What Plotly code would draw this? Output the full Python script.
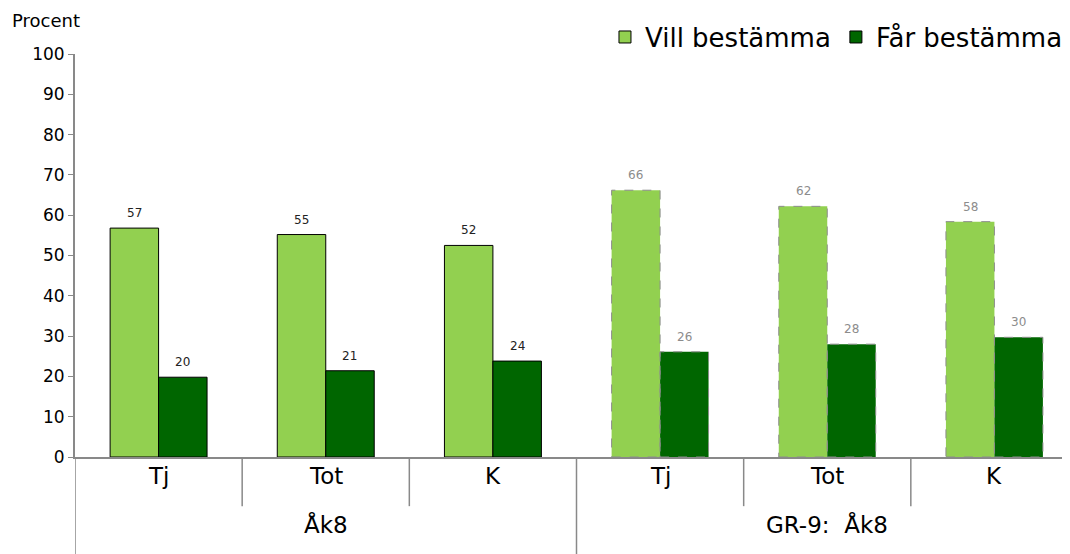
import plotly.graph_objects as go

inner_labels = ["Tj", "Tot", "K", "Tj", "Tot", "K"]
outer_labels = ["Åk8", "GR-9:  Åk8"]
vill = [56.8, 55.2, 52.5, 66.2, 62.2, 58.4]
far = [19.8, 21.4, 23.8, 26.1, 28.0, 29.7]
series_names = ["Vill bestämma", "Får bestämma"]

VILL_C = "#92D050"
FAR_C = "#006600"
FONT = "DejaVu Sans"
W = 0.29

fig = go.Figure()
x_all = list(range(len(inner_labels)))
groups = [x_all[:3], x_all[3:]]

for gi, idx in enumerate(groups):
    solid = gi == 0
    txtcol = "#222222" if solid else "#8c8c8c"
    for si, (vals, col) in enumerate([(vill, VILL_C), (far, FAR_C)]):
        ys = [vals[i] for i in idx]
        off = -W if si == 0 else 0
        fig.add_trace(go.Bar(
            x=idx, y=ys, width=W, offset=off,
            marker=dict(color=col, line=dict(color="#000000" if solid else col, width=1 if solid else 0)),
            name=series_names[si], showlegend=solid,
            hoverinfo="skip",
        ))
        for i, v in zip(idx, ys):
            fig.add_annotation(x=i + off + W / 2, y=v, xref="x", yref="y", text=f"{v:.0f}",
                               showarrow=False, yshift=15,
                               font=dict(size=12, color=txtcol, family=FONT))
            if not solid:
                x0 = i + off
                fig.add_shape(type="rect", xref="x", yref="y", x0=x0, x1=x0 + W, y0=0, y1=v,
                              line=dict(color="#8c8c8c", width=1, dash="dash"))

# inner labels and dividers
for i, lab in enumerate(inner_labels):
    fig.add_annotation(x=i, y=-0.085, xref="x", yref="paper", text=lab, showarrow=False,
                       font=dict(size=23, color="#000", family=FONT))
for i in range(len(inner_labels) - 1):
    full = i == 2
    fig.add_shape(type="line", xref="x", yref="paper", x0=i + 0.5, x1=i + 0.5, y0=0,
                  y1=-0.245 if full else -0.122, line=dict(color="#898989", width=1.5))
fig.add_shape(type="line", xref="x", yref="paper", x0=-0.5, x1=-0.5, y0=0, y1=-0.245,
              line=dict(color="#898989", width=1.5))
for gi, lab in enumerate(outer_labels):
    cx = sum(groups[gi]) / len(groups[gi])
    fig.add_annotation(x=cx, y=-0.205, xref="x", yref="paper", text=lab, showarrow=False,
                       font=dict(size=23, color="#000", family=FONT))

fig.add_annotation(x=-0.065, y=1.084, xref="paper", yref="paper", text="Procent", showarrow=False,
                   xanchor="left", yanchor="middle", font=dict(size=18, color="#000", family=FONT))

# the page adds an 8px body margin; the plot area runs slightly past the window edge as in the reference
fig.update_layout(
    width=1070, height=546,
    margin=dict(l=67, r=0, t=46, b=97, autoexpand=False),
    plot_bgcolor="white", paper_bgcolor="white",
    barmode="overlay",
    font=dict(family=FONT, color="#000"),
    xaxis=dict(range=[-0.5, 5.5], showticklabels=False, showgrid=False, zeroline=False,
               showline=True, linecolor="#898989", linewidth=2, ticks=""),
    yaxis=dict(range=[0, 100], dtick=10, showgrid=False, zeroline=False, showline=True,
               linecolor="#898989", linewidth=2, ticks="outside", ticklen=5, tickcolor="#898989",
               tickfont=dict(size=17, color="#000", family=FONT)),
    legend=dict(orientation="h", x=0.99, xanchor="right", y=1.042, yanchor="middle",
                font=dict(size=26, color="#000", family=FONT), itemwidth=30, bgcolor="rgba(0,0,0,0)"),
)

fig.write_html("out.html")
